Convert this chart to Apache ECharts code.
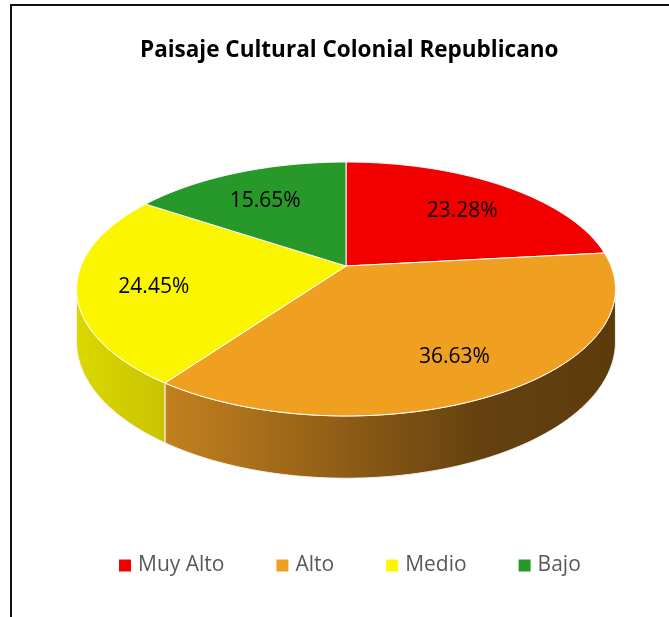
<!DOCTYPE html>
<html><head><meta charset="utf-8">
<script src="https://cdn.jsdelivr.net/npm/echarts@6/dist/echarts.min.js"></script>
<style>html,body{margin:0;padding:0;background:#fff;overflow:hidden}#c{width:669px;height:617px}</style>
</head><body><div id="c"></div>
<script>
// ---- data ----
const categories = ['Muy Alto', 'Alto', 'Medio', 'Bajo'];
const values = [23.28, 36.63, 24.45, 15.65];
const titleText = 'Paisaje Cultural Colonial Republicano';

// ---- styles ----
const colors = ['#f20000', '#f0a020', '#fbf500', '#27992b'];
const sideStops = [
  [['#a00000', 0], ['#700000', 1]],
  [['#c3811f', 0], ['#8e5d16', 0.4], ['#654110', 0.7], ['#5c3b0b', 1]],
  [['#dbd700', 0], ['#c9c400', 1]],
  [['#1b6e1f', 0], ['#134d16', 1]]
];
const FONT = '"Open Sans", Lato, sans-serif';

// ---- geometry (3D projection of the pie disk) ----
const CX = 346, CY = 266, RX = 265, RY = 122.8, P = 0.181, DEPTH = 51;
const VIS_L = Math.acos(-P) * 180 / Math.PI;   // silhouette angles
const VIS_R = 360 - VIS_L;

function proj(r, deg, drop) {
  const t = deg * Math.PI / 180;
  const X = r * Math.sin(t), Z = -r * Math.cos(t);
  const w = 1 / (1 - P * Z);
  return [CX + RX * X * w, CY + RY * Z * w + drop * w];
}

const total = values.reduce((a, b) => a + b, 0);

function renderSlice(i) {
  return function (params, api) {
    let start = 0;
    for (let k = 0; k < i; k++) start += values[k];
    const a0 = start / total * 360, a1 = (start + values[i]) / total * 360;
    const children = [];
    // side wall
    const lo = Math.max(a0, VIS_L), hi = Math.min(a1, VIS_R);
    if (hi > lo) {
      const top = [], bot = [];
      const n = Math.max(2, Math.ceil((hi - lo) / 0.5));
      for (let s = 0; s <= n; s++) {
        const t = lo + (hi - lo) * s / n;
        top.push(proj(1, t, 0));
        bot.push(proj(1, t, DEPTH));
      }
      const pts = top.concat(bot.reverse());
      children.push({
        type: 'polygon', shape: { points: pts },
        style: {
          fill: {
            type: 'linear', x: 0, y: 0, x2: 1, y2: 0,
            colorStops: sideStops[i].map(s => ({ offset: s[1], color: s[0] }))
          },
          stroke: '#f4f4f4', lineWidth: 1
        }
      });
    }
    // top face
    const pts = [proj(0, 0, 0)];
    const n = Math.max(2, Math.ceil((a1 - a0) / 0.5));
    for (let s = 0; s <= n; s++) pts.push(proj(1, a0 + (a1 - a0) * s / n, 0));
    children.push({
      type: 'polygon', shape: { points: pts },
      style: { fill: colors[i], stroke: '#ffffff', lineWidth: 1 }
    });
    // label
    const m = (a0 + a1) / 2;
    const lp = proj(0.72, m, 0);
    children.push({
      type: 'text', x: lp[0], y: lp[1] + 5, z2: 10,
      style: {
        text: values[i].toFixed(2) + '%', fill: '#000',
        font: '21px ' + FONT, align: 'center', verticalAlign: 'middle'
      }
    });
    return { type: 'group', children };
  };
}

const chart = echarts.init(document.getElementById('c'));
chart.setOption({
  animation: false,
  title: {
    text: titleText, left: 135, top: 34,
    textStyle: { fontSize: 22.5, fontWeight: 'bold', color: '#000', fontFamily: FONT }
  },
  legend: {
    data: categories, top: 550, left: 114, icon: 'rect',
    itemWidth: 12, itemHeight: 12, itemGap: 52,
    textStyle: { fontSize: 21, color: '#595959', fontFamily: FONT, padding: [0, 0, 0, 2] }
  },
  graphic: [{
    type: 'rect', shape: { x: 11, y: 5, width: 720, height: 700 },
    style: { fill: 'none', stroke: '#111', lineWidth: 2 }, silent: true
  }],
  series: categories.map((name, i) => ({
    type: 'custom', name, coordinateSystem: 'none',
    itemStyle: { color: colors[i] },
    renderItem: renderSlice(i),
    data: [values[i]]
  }))
});
</script></body></html>
